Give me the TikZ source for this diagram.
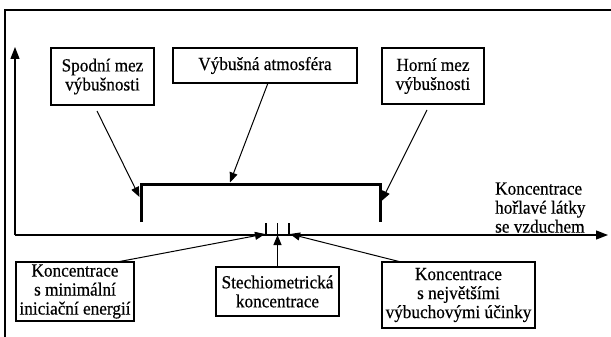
\documentclass[tikz,border=0pt]{standalone}
\usepackage{fontspec}
\setmainfont{Liberation Serif}[FakeStretch=0.93, FakeBold=0.5]
\usetikzlibrary{arrows.meta,calc}
\begin{document}
\begin{tikzpicture}[x=1pt,y=-1pt,
  txt/.style={font=\fontsize{18.5}{19}\selectfont, align=center, inner sep=0pt},
  box/.style={txt, draw, line width=1.4pt},
  arr/.style={-{Triangle[length=10pt,width=8pt]}, line width=1pt},
  axisline/.style={line width=1.3pt},
  bracketline/.style={line width=3pt},
]
\useasboundingbox (0,0) rectangle (611,337);

% outer frame (left and top edges)
\draw[line width=1.2pt] (5,337) -- (5,10) -- (611,10);

% axes
\coordinate (O) at (15,235);
\coordinate (ytip) at (15,47);
\coordinate (xtip) at (608,235);
\draw[axisline, -{Triangle[length=12pt,width=9pt]}] (O) -- (ytip);
\draw[axisline, -{Triangle[length=12pt,width=9pt]}] (O) -- (xtip);

% upper boxes
\node[box, minimum width=103pt, minimum height=57pt] (spodni) at (102.5,76.5) {Spodní mez\\výbušnosti};
\node[box, minimum width=184pt, minimum height=35pt] (vybusna) at (265,65.5) {Výbušná atmosféra};
\node[box, minimum width=102pt, minimum height=56pt] (horni) at (433,76) {Horní mez\\výbušnosti};

% bracket marking the explosive range
\coordinate (bl) at (141,222);
\coordinate (tl) at (141,184);
\coordinate (tr) at (380,184);
\coordinate (br) at (380,222);
\draw[bracketline] (bl) -- (tl) -- (tr) -- (br);

% axis label
\node[txt, align=left, anchor=south west] (label) at (495,233) {Koncentrace\\hořlavé látky\\se vzduchem};

% arrows from the upper boxes to the bracket
\coordinate (s1) at (97,111);
\coordinate (e1) at (139.5,197);
\coordinate (s2) at (268,83);
\coordinate (e2) at (230,182.5);
\coordinate (s3) at (427,110);
\coordinate (e3) at (381.5,201);
\draw[arr] (s1) -- (e1);
\draw[arr] (s2) -- (e2);
\draw[arr] (s3) -- (e3);

% three marks on the axis
\coordinate (t1) at (266,223);
\coordinate (t2) at (277.5,223);
\coordinate (t3) at (289,223);
\draw[line width=1.2pt] (t1) -- (t1 |- O);
\draw[line width=1.2pt] (t2) -- (t2 |- O);
\draw[line width=1.2pt] (t3) -- (t3 |- O);

% lower boxes
\node[box, minimum width=118pt, minimum height=59pt] (minen) at (75,291.5) {Koncentrace\\s minimální\\iniciační energií};
\node[box, minimum width=123pt, minimum height=49pt] (stech) at (277.5,291.5) {Stechiometrická\\koncentrace};
\node[box, minimum width=153pt, minimum height=66pt] (maxuc) at (458.5,295) {Koncentrace\\s největšími\\výbuchovými účinky};

% arrows from the lower boxes to the marks
\coordinate (b1) at (117,262);
\coordinate (c1) at (265,234);
\coordinate (b3) at (401,262);
\coordinate (c3) at (290,234);
\draw[arr] (b1) -- (c1);
\draw[arr] (stech.north) -- (t2 |- O);
\draw[arr] (b3) -- (c3);
\end{tikzpicture}
\end{document}
